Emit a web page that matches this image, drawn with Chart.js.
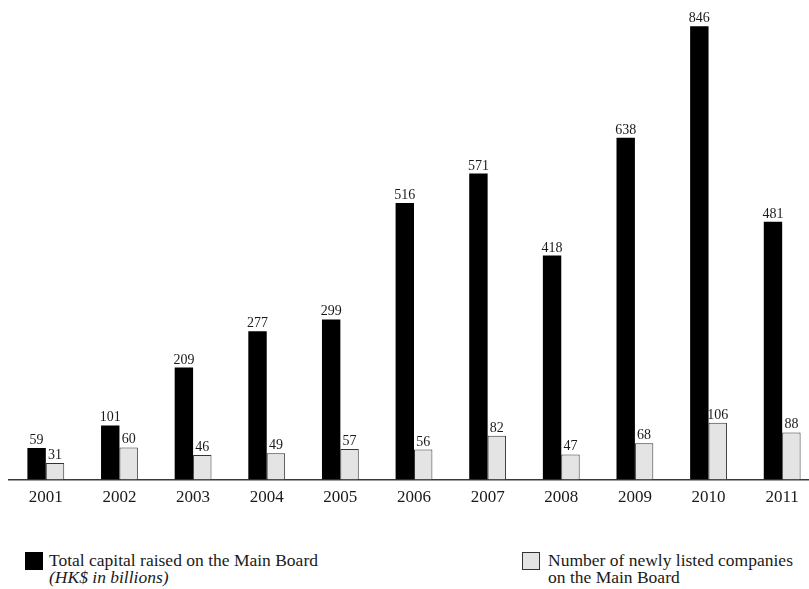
<!DOCTYPE html>
<html>
<head>
<meta charset="utf-8">
<script src="https://cdn.jsdelivr.net/npm/chart.js@4.4.0/dist/chart.umd.min.js"></script>
<style>
  html, body { margin: 0; padding: 0; background: #fff; overflow: hidden; }
  body { width: 809px; height: 589px; position: relative; }
  #wrap { position: absolute; left: 0; top: 0; width: 820px; height: 520px; }
  .key { position: absolute; box-sizing: border-box; width: 18px; height: 18px; top: 552px; }
  .txt { position: absolute; top: 552px; font-family: "Liberation Serif", "Times New Roman", serif;
         font-size: 17.5px; line-height: 16.5px; color: #1a1a1a; white-space: nowrap; }
</style>
</head>
<body>
<div id="wrap"><canvas id="c"></canvas></div>

<div class="key" style="left:25px; background:#000;"></div>
<div class="txt" style="left:49px;">Total capital raised on the Main Board<br><i>(HK$ in billions)</i></div>

<div class="key" style="left:522px; background:#e4e4e4; border:1px solid #333;"></div>
<div class="txt" style="left:548px;">Number of newly listed companies<br>on the Main Board</div>

<script>
// Hong Kong Main Board fundraising, 2001–2011
const years = ['2001', '2002', '2003', '2004', '2005', '2006', '2007', '2008', '2009', '2010', '2011'];
const capitalRaised = [59, 101, 209, 277, 299, 516, 571, 418, 638, 846, 481];   // HK$ billions
const newListings = [31, 60, 46, 49, 57, 56, 82, 47, 68, 106, 88];              // companies

// Prints each bar's value just above it
const valueLabels = {
  id: 'valueLabels',
  afterDatasetsDraw(chart) {
    const ctx = chart.ctx;
    ctx.save();
    ctx.font = '14px "Liberation Serif", "Times New Roman", serif';
    ctx.fillStyle = '#1a1a1a';
    ctx.textAlign = 'center';
    ctx.textBaseline = 'alphabetic';
    chart.data.datasets.forEach((ds, di) => {
      const meta = chart.getDatasetMeta(di);
      meta.data.forEach((bar, i) => {
        ctx.fillText(String(ds.data[i]), bar.x, bar.y - 4);
      });
    });
    ctx.restore();
  }
};

new Chart(document.getElementById('c'), {
  type: 'bar',
  data: {
    labels: years,
    datasets: [
      {
        label: 'Total capital raised on the Main Board (HK$ in billions)',
        data: capitalRaised,
        backgroundColor: '#000000',
        borderWidth: 0,
        categoryPercentage: 0.5,
        barPercentage: 1.0
      },
      {
        label: 'Number of newly listed companies on the Main Board',
        data: newListings,
        backgroundColor: '#e4e4e4',
        borderColor: '#333333',
        borderWidth: 1,
        categoryPercentage: 0.5,
        barPercentage: 1.0
      }
    ]
  },
  options: {
    responsive: true,
    maintainAspectRatio: false,
    animation: false,
    layout: { padding: { left: 9, right: 1, top: 0, bottom: 4 } },
    plugins: {
      legend: { display: false },
      tooltip: { enabled: false }
    },
    scales: {
      x: {
        offset: true,
        grid: { display: false, drawTicks: false },
        border: { display: true, color: '#3a3a3a', width: 1.5 },
        ticks: {
          padding: 8,
          color: '#1a1a1a',
          font: { family: '"Liberation Serif", "Times New Roman", serif', size: 17 }
        }
      },
      y: {
        display: false,
        min: 0,
        max: 895
      }
    }
  },
  plugins: [valueLabels]
});
</script>
</body>
</html>
